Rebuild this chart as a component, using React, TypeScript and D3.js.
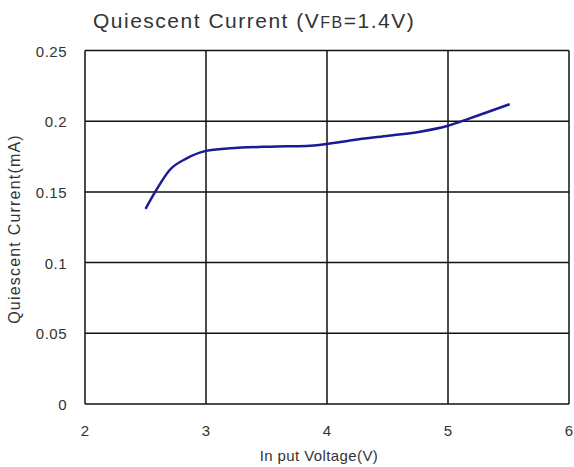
import React from "react";
import * as d3 from "d3";

const voltage = [2.5, 2.58, 2.7, 2.84, 3.0, 3.2, 3.53, 3.83, 4.0, 4.22, 4.49, 4.77, 5.0, 5.18, 5.51];
const current = [0.138, 0.150, 0.1655, 0.1737, 0.179, 0.1808, 0.182, 0.1825, 0.1839, 0.1867, 0.1895, 0.1926, 0.1968, 0.202, 0.212];
const xTicks = [2, 3, 4, 5, 6];
const yTicks = [0, 0.05, 0.1, 0.15, 0.2, 0.25];
const yTickLabels = ["0", "0.05", "0.1", "0.15", "0.2", "0.25"];

export default function App() {
  const W = 574, H = 467;
  const left = 85, right = 569, top = 50.5, bottom = 404;
  const x = d3.scaleLinear().domain([2, 6]).range([left, right]);
  const y = d3.scaleLinear().domain([0, 0.25]).range([bottom, top]);
  const data = voltage.map((v, i) => [v, current[i]] as [number, number]);
  const line = d3.line<[number, number]>().x(d => x(d[0])).y(d => y(d[1])).curve(d3.curveMonotoneX);
  const font = "Arial, 'Liberation Sans', sans-serif";
  return (
    <svg width={W} height={H} style={{ position: "absolute", left: 0, top: 0, background: "#fff" }}>
      <text x={93} y={28} fontFamily={font} fontSize={21} letterSpacing={1.5} fill="#333">
        Quiescent Current (V<tspan fontSize={16}>FB</tspan>=1.4V)
      </text>
      {xTicks.map(t => (
        <line key={"gx" + t} x1={x(t)} x2={x(t)} y1={top} y2={bottom} stroke="#111" strokeWidth={1.5} />
      ))}
      {yTicks.map(t => (
        <line key={"gy" + t} x1={left} x2={right} y1={y(t)} y2={y(t)} stroke="#111" strokeWidth={1.5} />
      ))}
      <path d={line(data) || ""} fill="none" stroke="#1a1a96" strokeWidth={2.5} />
      {xTicks.map(t => (
        <text key={"tx" + t} x={x(t)} y={436} textAnchor="middle" fontFamily={font} fontSize={15} fill="#333">{t}</text>
      ))}
      {yTicks.map((t, i) => (
        <text key={"ty" + t} x={67} y={y(t) + 6} textAnchor="end" fontFamily={font} fontSize={15} letterSpacing={0.5} fill="#333">{yTickLabels[i]}</text>
      ))}
      <text x={319} y={461} textAnchor="middle" fontFamily={font} fontSize={15} letterSpacing={0.4} fill="#333">In put Voltage(V)</text>
      <text transform={`translate(20,229) rotate(-90)`} textAnchor="middle" fontFamily={font} fontSize={16} letterSpacing={1.2} fill="#333">Quiescent Current(mA)</text>
    </svg>
  );
}
